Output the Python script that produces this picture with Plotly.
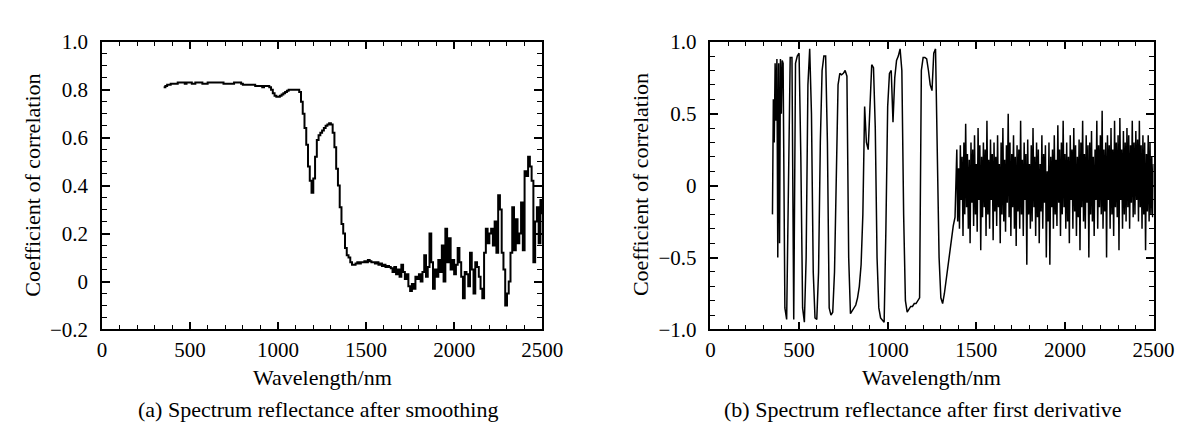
import numpy as np
import plotly.graph_objects as go

# (a) smoothed spectrum: correlation every 10 nm from 350 to 2500 nm
wl_a = list(range(350, 2510, 10))
corr_a = [
    0.81, 0.815, 0.82, 0.82, 0.825, 0.825, 0.825, 0.825, 0.83, 0.83,
    0.83, 0.83, 0.825, 0.83, 0.83, 0.83, 0.825, 0.825, 0.83, 0.83,
    0.83, 0.83, 0.825, 0.825, 0.825, 0.83, 0.83, 0.83, 0.83, 0.83,
    0.83, 0.83, 0.83, 0.83, 0.825, 0.825, 0.825, 0.825, 0.825, 0.825,
    0.83, 0.83, 0.83, 0.83, 0.825, 0.82, 0.82, 0.82, 0.82, 0.82,
    0.82, 0.82, 0.815, 0.815, 0.815, 0.815, 0.81, 0.815, 0.815, 0.815,
    0.81, 0.80, 0.785, 0.775, 0.77, 0.77, 0.775, 0.78, 0.785, 0.79,
    0.795, 0.80, 0.80, 0.80, 0.80, 0.80, 0.80, 0.79, 0.75, 0.70,
    0.64, 0.57, 0.48, 0.42, 0.37, 0.43, 0.52, 0.59, 0.61, 0.62,
    0.63, 0.64, 0.65, 0.655, 0.66, 0.655, 0.62, 0.56, 0.47, 0.40,
    0.31, 0.24, 0.20, 0.14, 0.11, 0.10, 0.08, 0.07, 0.07, 0.075,
    0.08, 0.075, 0.08, 0.08, 0.085, 0.08, 0.09, 0.085, 0.08, 0.08,
    0.075, 0.08, 0.07, 0.075, 0.065, 0.07, 0.06, 0.065, 0.06, 0.055,
    0.04, 0.06, 0.03, 0.05, 0.02, 0.07, 0.04, 0.01, 0.03, -0.02,
    -0.04, -0.01, -0.03, 0.02, 0.01, 0.03, 0.0, 0.04, 0.11, 0.02,
    0.06, 0.20, 0.08, -0.03, 0.05, 0.02, 0.09, 0.04, 0.15, 0.0,
    0.22, 0.08, 0.18, 0.05, 0.09, 0.03, 0.07, 0.14, 0.08, 0.02,
    -0.07, 0.04, 0.03, -0.02, 0.12, 0.05, -0.05, 0.08, 0.06, 0.02,
    -0.03, -0.07, 0.12, 0.22, 0.16, 0.20, 0.22, 0.15, 0.25, 0.12,
    0.36, 0.30, 0.12, 0.05, -0.10, -0.05, 0.0, 0.12, 0.31, 0.13,
    0.26, 0.16, 0.20, 0.33, 0.13, 0.46, 0.44, 0.52, 0.48, 0.42,
    0.08, 0.25, 0.31, 0.16, 0.34, 0.28,
]

# (b) first derivative spectrum: 5 nm to 410, 10 nm to 1380, then 5 nm to 2500
wl_b = list(range(350, 415, 5)) + list(range(420, 1390, 10)) + list(range(1390, 2505, 5))
corr_b = [
    # 350-410, dense start
    -0.2, 0.6, 0.3, 0.85, 0.45, 0.88, -0.5, 0.85, -0.4, 0.88,
    0.5, 0.87, 0.85,
    # 420-1380, strong oscillation
    -0.85, -0.93, 0.2,
    0.89, 0.89, -0.93, 0.85, 0.9, 0.92, 0.2, -0.85, -0.95, -0.5,
    0.7, 0.95, 0.5, -0.6, -0.92, -0.93, -0.6, 0.3, 0.8, 0.9,
    0.9, 0.3, -0.85, -0.9, -0.88, -0.6, 0.2, 0.7, 0.78, 0.77,
    0.78, 0.8, 0.76, -0.5, -0.89, -0.87, -0.85, -0.83, -0.78, -0.7,
    -0.55, -0.2, 0.55, 0.3, 0.25, 0.6, 0.84, 0.82, 0.4, -0.5,
    -0.85, -0.92, -0.94, -0.95, -0.3, 0.55, 0.78, 0.8, 0.44, 0.75,
    0.87, 0.9, 0.95, 0.8, -0.2, -0.8, -0.88, -0.86, -0.84, -0.84,
    -0.82, -0.82, -0.8, -0.78, 0.8, 0.89, 0.89, 0.88, 0.8, 0.7,
    0.66, 0.92, 0.95, 0.3, -0.5, -0.78, -0.82, -0.75, -0.65, -0.55,
    -0.45, -0.35, -0.28, -0.22,
    # 1390-2500, noisy band
    0.25, -0.25, 0.12, -0.3, 0.28, -0.1, 0.2, -0.35, 0.3, -0.2,
    0.43, -0.15, 0.22, -0.3, 0.18, -0.4, 0.3, -0.12, 0.25, -0.28,
    0.35, -0.2, 0.15, -0.32, 0.4, -0.1, 0.28, -0.45, 0.2, -0.22,
    0.3, -0.15, 0.25, -0.35, 0.45, -0.2, 0.18, -0.3, 0.32, -0.1,
    0.22, -0.38, 0.3, -0.18, 0.2, -0.28, 0.35, -0.15, 0.15, -0.4,
    0.3, -0.2, 0.4, -0.25, 0.18, -0.32, 0.28, -0.12, 0.5, -0.22,
    0.3, -0.35, 0.22, -0.15, 0.35, -0.3, 0.2, -0.42, 0.28, -0.18,
    0.25, -0.3, 0.45, -0.2, 0.18, -0.35, 0.3, -0.1, 0.22, -0.55,
    0.32, -0.2, 0.15, -0.3, 0.28, -0.25, 0.4, -0.15, 0.2, -0.35,
    0.3, -0.22, 0.25, -0.4, 0.15, -0.18, 0.35, -0.3, 0.22, -0.12,
    0.28, -0.5, 0.1, -0.25, 0.3, -0.55, 0.2, -0.15, 0.25, -0.3,
    0.35, -0.2, 0.18, -0.28, 0.42, -0.12, 0.25, -0.35, 0.3, -0.2,
    0.45, -0.15, 0.22, -0.3, 0.3, -0.25, 0.2, -0.4, 0.35, -0.1,
    0.25, -0.3, 0.4, -0.18, 0.28, -0.35, 0.2, -0.22, 0.32, -0.45,
    0.3, -0.15, 0.45, -0.25, 0.22, -0.3, 0.35, -0.12, 0.28, -0.5,
    0.3, -0.2, 0.38, -0.25, 0.2, -0.35, 0.25, -0.1, 0.45, -0.3,
    0.28, -0.15, 0.35, -0.2, 0.52, -0.3, 0.25, -0.18, 0.3, -0.5,
    0.35, -0.1, 0.28, -0.3, 0.4, -0.2, 0.25, -0.35, 0.45, -0.15,
    0.3, -0.22, 0.35, -0.45, 0.47, -0.1, 0.25, -0.3, 0.38, -0.2,
    0.3, -0.25, 0.4, -0.15, 0.35, -0.3, 0.28, -0.12, 0.45, -0.22,
    0.3, -0.2, 0.38, -0.1, 0.32, -0.25, 0.45, -0.15, 0.28, -0.3,
    0.35, -0.2, 0.3, -0.45, 0.22, -0.18, 0.35, -0.25, 0.3, -0.2,
    0.2, -0.22, 0.15,
]

W, H = 1191, 425
FONT = "Liberation Serif, Times New Roman, serif"

fig = go.Figure()
fig.add_trace(go.Scatter(x=wl_a, y=corr_a, mode="lines", line_shape="hv",
                         line=dict(color="black", width=2), xaxis="x", yaxis="y"))
fig.add_trace(go.Scatter(x=wl_b, y=corr_b, mode="lines",
                         line=dict(color="black", width=1.5), xaxis="x2", yaxis="y2"))

def px_x(p):
    return p / W

def px_y(p):
    return 1 - p / H

common = dict(showgrid=False, zeroline=False, showline=True, linecolor="black", linewidth=1.5,
              mirror="ticks", ticks="inside", ticklen=8, tickwidth=1.5, tickcolor="black",
              tickfont=dict(family=FONT, size=21, color="black"))
xcommon = dict(common, range=[0, 2500], tickvals=[0, 500, 1000, 1500, 2000, 2500],
               minor=dict(dtick=100, ticks="inside", ticklen=5, tickwidth=1.2, tickcolor="black"),
               ticklabelstandoff=1)

ydom = [px_y(328), px_y(23)]
fig.update_layout(
    width=W, height=H, margin=dict(l=0, r=0, t=0, b=0),
    paper_bgcolor="white", plot_bgcolor="white", showlegend=False,
    xaxis=dict(xcommon, domain=[px_x(91), px_x(541)], anchor="y"),
    yaxis=dict(common, domain=ydom, anchor="x", range=[-0.2, 1.0],
               tickvals=[-0.2, 0, 0.2, 0.4, 0.6, 0.8, 1.0],
               ticktext=["\u22120.2", "0", "0.2", "0.4", "0.6", "0.8", "1.0"],
               minor=dict(dtick=0.05, ticks="inside", ticklen=5, tickwidth=1.2, tickcolor="black"),
               ticklabelstandoff=8),
    xaxis2=dict(xcommon, domain=[px_x(713), px_x(1166)], anchor="y2"),
    yaxis2=dict(common, domain=ydom, anchor="x2", range=[-1.0, 1.0],
                tickvals=[-1.0, -0.5, 0, 0.5, 1.0],
                ticktext=["\u22121.0", "\u22120.5", "0", "0.5", "1.0"],
                minor=dict(dtick=0.1, ticks="inside", ticklen=5, tickwidth=1.2, tickcolor="black"),
                ticklabelstandoff=8),
)

texts = [
    ("Coefficient of correlation", 20, 175, -90),
    ("Coefficient of correlation", 641, 175, -90),
    ("Wavelength/nm", 316, 379, 0),
    ("Wavelength/nm", 939, 379, 0),
    ("(a) Spectrum reflectance after smoothing", 312, 413, 0),
    ("(b) Spectrum reflectance after first derivative", 930, 413, 0),
]
for t, x, y, ang in texts:
    fig.add_annotation(text=t, x=px_x(x), y=px_y(y), xref="paper", yref="paper",
                       xanchor="center", yanchor="middle", showarrow=False, textangle=ang,
                       font=dict(family=FONT, size=22, color="black"))

fig.write_html("out.html")
